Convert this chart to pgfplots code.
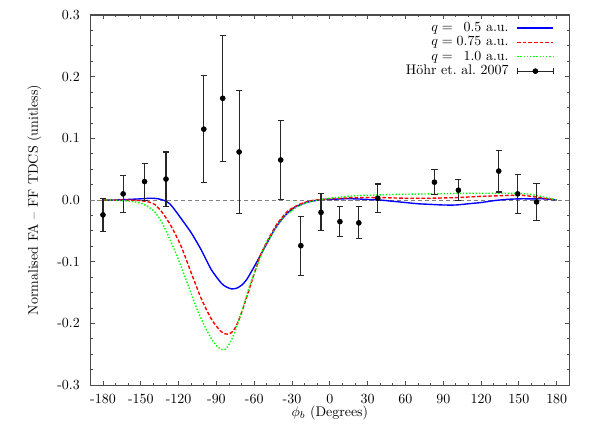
\documentclass[border=0pt]{standalone}
\usepackage{pgfplots}
\pgfplotsset{compat=1.18}
\usepackage{pgfplotstable}

\pgfplotstableread{
x y ey
-180 -0.024 0.027
-164 0.010 0.030
-147 0.030 0.030
-130 0.034 0.044
-100 0.115 0.087
-85 0.165 0.102
-72 0.078 0.100
-39 0.065 0.064
-23 -0.074 0.048
-7 -0.020 0.030
8 -0.035 0.024
23 -0.037 0.026
38 0.003 0.023
83 0.029 0.020
102 0.016 0.017
134 0.047 0.034
149 0.010 0.032
164 -0.003 0.030
}\hohr

\pgfplotstableread{
x y
-180 0.000
-170 0.000
-160 0.001
-150 0.002
-142 0.003
-136 0.002
-131 -0.001
-127 -0.006
-123 -0.016
-118 -0.030
-110 -0.053
-102 -0.081
-94 -0.113
-86 -0.135
-82 -0.141
-78 -0.144
-74 -0.143
-70 -0.138
-66 -0.129
-60 -0.108
-52 -0.078
-44 -0.048
-38 -0.031
-33 -0.020
-28 -0.012
-23 -0.007
-17 -0.003
-12 -0.001
-5 0.001
0 0.001
10 0.002
20 0.002
30 0.001
40 0.000
50 -0.002
60 -0.004
70 -0.006
80 -0.007
90 -0.008
100 -0.008
110 -0.006
120 -0.004
130 -0.001
140 0.001
150 0.002
160 0.002
170 0.002
180 0.000
}\qa

\pgfplotstableread{
x y
-180 0.000
-170 0.000
-160 0.000
-150 -0.001
-144 -0.003
-139 -0.007
-133 -0.020
-126 -0.042
-118 -0.075
-110 -0.118
-102 -0.160
-94 -0.193
-87 -0.212
-83 -0.217
-80 -0.217
-77 -0.213
-74 -0.203
-70 -0.182
-65 -0.151
-60 -0.119
-55 -0.089
-49 -0.064
-42 -0.039
-34 -0.019
-28 -0.011
-23 -0.006
-17 -0.002
-12 0.000
-5 0.001
0 0.002
10 0.003
20 0.004
40 0.004
60 0.003
80 0.003
100 0.004
120 0.006
135 0.007
150 0.008
160 0.006
170 0.003
180 0.000
}\qb

\pgfplotstableread{
x y
-180 0.000
-172 0.000
-165 -0.001
-158 -0.002
-150 -0.005
-144 -0.011
-139 -0.019
-134 -0.034
-129 -0.054
-121 -0.092
-113 -0.135
-105 -0.179
-97 -0.214
-92 -0.231
-89 -0.238
-86 -0.242
-83 -0.242
-80 -0.234
-77 -0.222
-73 -0.200
-68 -0.168
-63 -0.135
-57 -0.103
-52 -0.076
-44 -0.049
-36 -0.027
-30 -0.017
-26 -0.011
-18 -0.004
-12 -0.001
-5 0.001
0 0.003
10 0.005
20 0.007
35 0.008
50 0.009
80 0.010
110 0.011
135 0.011
150 0.011
160 0.009
170 0.005
180 0.000
}\qc

\begin{document}
\begin{tikzpicture}
\begin{axis}[
  scale only axis,
  width=343.4pt, height=265.3pt,
  xmin=-190, xmax=190, ymin=-0.3, ymax=0.3,
  xtick={-180,-150,-120,-90,-60,-30,0,30,60,90,120,150,180},
  xticklabels={-180,-150,-120,-90,-60,-30,0,30,60,90,120,150,180},
  ytick={-0.3,-0.2,-0.1,0,0.1,0.2,0.3},
  yticklabels={-0.3,-0.2,-0.1,0.0,0.1,0.2,0.3},
  minor x tick num=2,
  minor y tick num=3,
  tick align=inside,
  major tick length=3pt,
  minor tick length=1.6pt,
  axis line style={draw=black!70, line width=0.8pt},
  every tick/.style={black!70, line width=0.6pt},
  xticklabel style={anchor=base, yshift=-13.1pt, inner sep=0pt},
  yticklabel style={anchor=east, xshift=-7.4pt, inner sep=0pt},
  every axis x label/.style={at={(axis description cs:0.5,0)}, anchor=base, yshift=-22.2pt},
  every axis y label/.style={at={(axis description cs:-0.1098,0.5)}, rotate=90, anchor=base},
  xlabel={$\phi_b$ (Degrees)},
  ylabel={Normalised FA -- FF TDCS (unitless)},
  legend cell align=right,
  legend plot pos=right,
  legend style={at={(0.969,0.985)}, anchor=north east, draw=none, fill=none,
    inner sep=0pt, row sep=0pt,
    nodes={inner sep=0.5pt, text height=7.1pt, text depth=2.2pt},
    /tikz/every odd column/.append style={column sep=5.2pt}},
]
\addplot[gray, thin, dash pattern=on 3pt off 2pt, forget plot] coordinates {(-190,0) (190,0)};
\addplot[blue, line width=1pt, smooth, tension=0.4,
  legend image code/.code={\draw[blue, line width=1pt] (0pt,0pt) -- (26pt,0pt);}]
  table[x=x,y=y] {\qa};
\addlegendentry{$q=\phantom{0}0.5$ a.u.}
\addplot[red, line width=1pt, dash pattern=on 2.6pt off 1.4pt, smooth, tension=0.4,
  legend image code/.code={\draw[red, line width=1pt, dash pattern=on 2.6pt off 1.4pt] (0pt,0pt) -- (26pt,0pt);}]
  table[x=x,y=y] {\qb};
\addlegendentry{$q=0.75$ a.u.}
\addplot[green, line width=1pt, dash pattern=on 1pt off 1.3pt, smooth, tension=0.4,
  legend image code/.code={\draw[green, line width=1pt, dash pattern=on 1pt off 1.3pt] (0pt,0pt) -- (26pt,0pt);}]
  table[x=x,y=y] {\qc};
\addlegendentry{$q=\phantom{0}1.0$ a.u.}
\addplot[black, only marks, mark=*, mark size=1.8pt,
  legend image code/.code={
    \draw[black!85, line width=0.8pt] (0pt,0pt) -- (26pt,0pt);
    \draw[black!85, line width=0.8pt] (0pt,-2.2pt) -- (0pt,2.2pt);
    \draw[black!85, line width=0.8pt] (26pt,-2.2pt) -- (26pt,2.2pt);
    \fill[black] (13pt,0pt) circle (1.8pt);},
  error bars/.cd, y dir=both, y explicit,
  error bar style={line width=0.8pt, black!85},
  error mark options={rotate=90, mark size=2.2pt, line width=0.8pt, black!85}
  ] table[x=x, y=y, y error=ey] {\hohr};
\addlegendentry{H\"ohr et.\ al.\ 2007}
\end{axis}
\pgfresetboundingbox
\path (current axis.south west) ++(-64.8pt,-31.6pt) coordinate (bbsw);
\path (current axis.north east) ++(30.6pt,10.8pt) coordinate (bbne);
\path[use as bounding box] (bbsw) rectangle (bbne);
\end{tikzpicture}
\end{document}
